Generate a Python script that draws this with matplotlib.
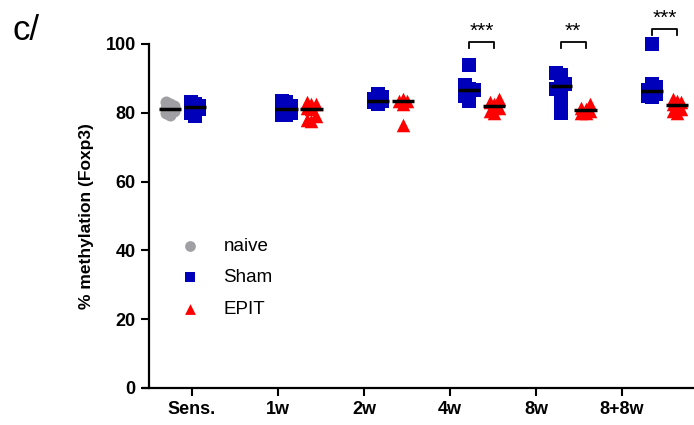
import numpy as np
import matplotlib.pyplot as plt

plt.rcParams['font.family'] = ['Liberation Sans', 'DejaVu Sans']

categories = ['Sens.', '1w', '2w', '4w', '8w', '8+8w']

naive = [83.0, 82.5, 82.0, 81.5, 81.0, 80.5, 80.0, 79.5]
sham = [
    [83.0, 82.5, 82.0, 82.0, 81.5, 81.0, 80.0, 79.0],
    [83.5, 83.0, 82.0, 81.5, 81.0, 80.0, 79.5, 79.5],
    [85.5, 84.5, 84.0, 83.5, 83.5, 83.0, 82.5],
    [94.0, 88.0, 87.0, 86.5, 85.0, 83.5],
    [91.5, 91.0, 89.0, 88.5, 87.0, 86.0, 83.0, 80.0],
    [100.0, 88.5, 87.5, 86.5, 86.0, 85.5, 85.0, 84.5],
]
epit = [
    None,
    [83.0, 82.5, 82.5, 81.5, 81.0, 79.0, 78.0, 77.5],
    [84.0, 83.5, 83.5, 82.5, 76.5],
    [84.0, 83.0, 82.5, 81.5, 80.5, 80.0],
    [82.5, 81.5, 81.0, 80.5, 80.0, 80.0],
    [84.0, 83.5, 83.0, 82.5, 82.0, 81.0, 80.5, 80.0],
]
stars = {3: '***', 4: '**', 5: '***'}

BLUE = '#0000bb'
RED = '#ff0000'
GREY = '#a0a0a4'


def spread(vals, gap=1.6, step=0.05):
    # GraphPad-like sideways spread of points with close values
    vals = np.asarray(vals, dtype=float)
    order = np.argsort(vals)
    offs = np.zeros(len(vals))
    k = 0
    prev = None
    pattern = [0, -1, 1]
    for idx in order:
        if prev is not None and vals[idx] - prev < gap:
            k += 1
        else:
            k = 0
        offs[idx] = pattern[k % len(pattern)] * step
        prev = vals[idx]
    return offs


fig = plt.figure(figsize=(6.94, 4.25), dpi=100)
ax = fig.add_axes([143 / 694, 37 / 425, 551 / 694, 344 / 425])
ax.spines['left'].set_position(('data', -0.5))
ax.spines['right'].set_visible(False)
ax.spines['top'].set_visible(False)
ax.spines['left'].set_linewidth(1.6)
ax.spines['bottom'].set_linewidth(1.6)

tick_x = np.arange(len(categories))
sham_x = tick_x * 1.063 + 0.035
shift = 0.29


def draw(x0, vals, marker, color, size):
    vals = np.asarray(vals)
    ax.scatter(x0 + spread(vals), vals, marker=marker, s=size, color=color,
               linewidths=0, zorder=3, clip_on=False)
    ax.plot([x0 - 0.13, x0 + 0.13], [np.median(vals)] * 2, color='black',
            lw=2.5, zorder=4, solid_capstyle='butt')


draw(sham_x[0] - shift, naive, 'o', GREY, 75)
for i in range(len(categories)):
    draw(sham_x[i], sham[i], 's', BLUE, 95)
    if epit[i] is not None:
        draw(sham_x[i] + shift, epit[i], '^', RED, 95)

for i, s in stars.items():
    x1, x2 = sham_x[i], sham_x[i] + shift
    yb = 104.5 if i == 5 else 100.7
    ax.plot([x1, x1, x2, x2], [yb - 2, yb, yb, yb - 2], color='black', lw=1.3,
            clip_on=False)
    ax.text((x1 + x2) / 2, yb + 0.3, s, ha='center', va='bottom', fontsize=15)

ax.set_xlim(-0.57, 5.837)
ax.set_ylim(0, 100)
ax.set_yticks([0, 20, 40, 60, 80, 100])
ax.set_yticklabels(['0', '20', '40', '60', '80', '100'], fontsize=13,
                   fontweight='bold')
ax.set_xticks(tick_x)
ax.set_xticklabels(categories, fontsize=13, fontweight='bold')
ax.tick_params(width=1.5, length=6)
ax.set_ylabel('% methylation (Foxp3)', fontsize=12.5, fontweight='bold',
              labelpad=8)

h1 = ax.scatter([], [], marker='o', s=60, color=GREY, linewidths=0)
h2 = ax.scatter([], [], marker='s', s=60, color=BLUE, linewidths=0)
h3 = ax.scatter([], [], marker='^', s=60, color=RED, linewidths=0)
ax.legend([h1, h2, h3], ['naive', 'Sham', 'EPIT'], frameon=False,
          loc='upper left', bbox_to_anchor=(0.02, 0.485), fontsize=13.5,
          labelspacing=0.75, handletextpad=0.8)

fig.text(12 / 694, 1 - 30 / 425, 'c/', fontsize=25, va='center', ha='left')

fig.savefig('out.png')
